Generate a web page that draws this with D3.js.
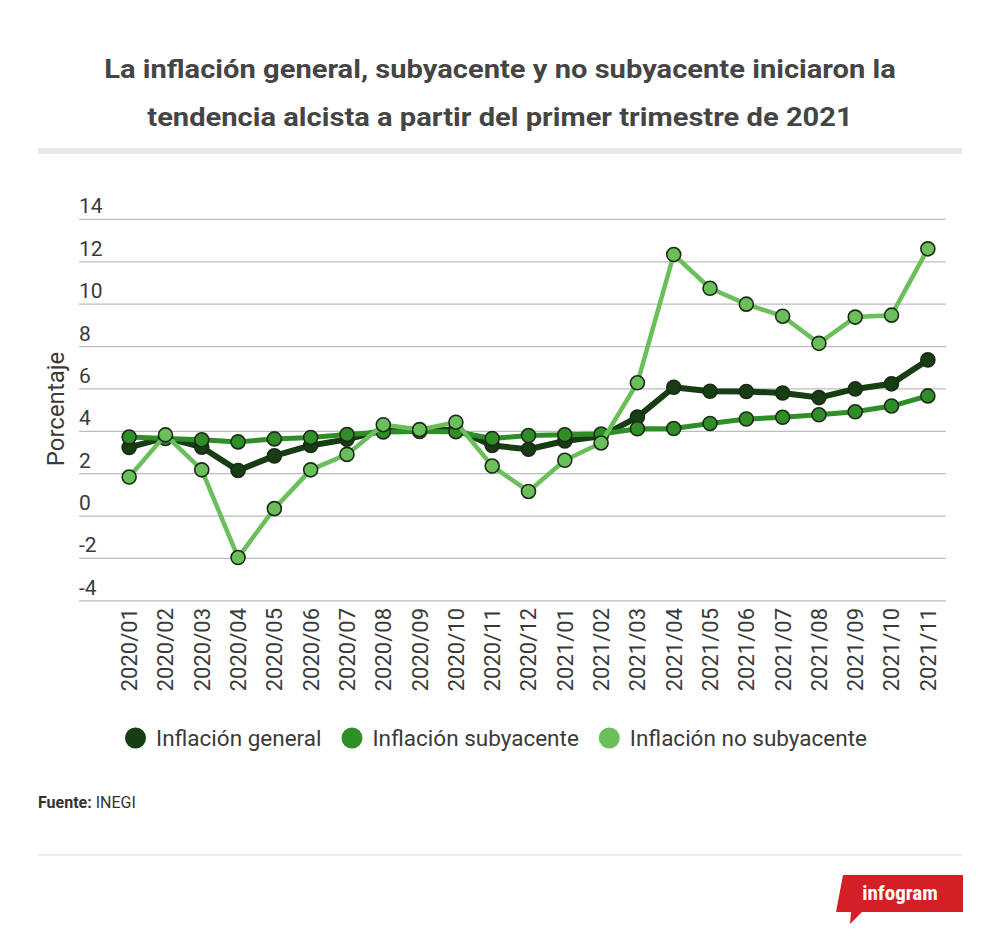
<!DOCTYPE html>
<html><head><meta charset="utf-8">
<script src="https://cdn.jsdelivr.net/npm/d3@7/dist/d3.min.js"></script>
<style>
html,body{margin:0;padding:0;background:#fff;}
svg{display:block;font-family:Roboto,"Noto Sans",sans-serif;}
</style></head>
<body>
<svg id="chart" width="1000" height="943"></svg>
<script>
const titleLines = ["La inflación general, subyacente y no subyacente iniciaron la",
                    "tendencia alcista a partir del primer trimestre de 2021"];
const months = ["2020/01","2020/02","2020/03","2020/04","2020/05","2020/06","2020/07","2020/08","2020/09","2020/10","2020/11","2020/12",
                "2021/01","2021/02","2021/03","2021/04","2021/05","2021/06","2021/07","2021/08","2021/09","2021/10","2021/11"];
const general    = [3.24,3.70,3.25,2.15,2.84,3.33,3.62,4.05,4.01,4.09,3.33,3.15,3.54,3.76,4.67,6.08,5.89,5.88,5.81,5.59,6.00,6.24,7.37];
const subyacente = [3.73,3.66,3.60,3.50,3.64,3.71,3.85,3.97,3.99,3.98,3.66,3.80,3.84,3.87,4.12,4.13,4.37,4.58,4.66,4.78,4.92,5.19,5.67];
const noSubyacente = [1.84,3.83,2.18,-1.96,0.35,2.18,2.91,4.31,4.08,4.43,2.36,1.16,2.63,3.45,6.29,12.34,10.75,10.0,9.43,8.15,9.39,9.48,12.61];
const seriesNames = ["Inflación general","Inflación subyacente","Inflación no subyacente"];
const yTicks = [14,12,10,8,6,4,2,0,-2,-4];

const seriesColors = ["#173d12","#2f8e28","#6abf5a"];
const lineWidths = [6,5,4.5];
const seriesData = [general, subyacente, noSubyacente];

const svg = d3.select("#chart");

// Title (stretched horizontally to the reference width)
const tg = svg.append("g");
const tTexts = tg.selectAll("text").data(titleLines).join("text")
  .attr("text-anchor","middle")
  .attr("font-size",26).attr("font-weight",700).attr("fill","#454545")
  .text(d=>d);
const w0 = tTexts.nodes()[0].getComputedTextLength();
const sx = 792 / w0;
tTexts.attr("transform",(d,i)=>`translate(500,${78+i*48}) scale(${sx},1)`);
svg.append("rect").attr("x",38).attr("y",148).attr("width",924).attr("height",6).attr("fill","#e8e8e8");

// Scales
const x = d3.scaleBand().domain(months).range([111,946]);
const y = d3.scaleLinear().domain([-4,14]).range([600.8,219.4]);
const gridLeft = 79, gridRight = 946;

// Grid + y labels
const yg = svg.append("g");
yg.selectAll("line").data(yTicks).join("line")
  .attr("x1",gridLeft).attr("x2",gridRight)
  .attr("y1",d=>y(d)).attr("y2",d=>y(d))
  .attr("stroke","#bcbcbc").attr("stroke-width",1.3);
yg.selectAll("text").data(yTicks).join("text")
  .attr("x",gridLeft).attr("y",d=>y(d)-6)
  .attr("font-size",21).attr("fill","#3a3a3a")
  .text(d=>d);

// Y title
svg.append("text").attr("transform","translate(64,409) rotate(-90)")
  .attr("text-anchor","middle").attr("font-size",24).attr("fill","#3a3a3a")
  .text("Porcentaje");

// X labels
svg.append("g").selectAll("text").data(months).join("text")
  .attr("transform",d=>`translate(${x(d)+x.bandwidth()/2},608) rotate(-90)`)
  .attr("text-anchor","end").attr("dy","0.36em")
  .attr("font-size",22).attr("fill","#3a3a3a")
  .text(d=>d);

// Lines + markers
const line = d3.line().x((d,i)=>x(months[i])+x.bandwidth()/2).y(d=>y(d));
seriesData.forEach((vals,si)=>{
  const g = svg.append("g");
  g.append("path").datum(vals).attr("d",line)
    .attr("fill","none").attr("stroke",seriesColors[si])
    .attr("stroke-width",lineWidths[si]).attr("stroke-linejoin","round").attr("stroke-linecap","round");
  g.selectAll("circle").data(vals).join("circle")
    .attr("cx",(d,i)=>x(months[i])+x.bandwidth()/2).attr("cy",d=>y(d))
    .attr("r",7).attr("fill",seriesColors[si])
    .attr("stroke","#1c2a18").attr("stroke-width",1.6);
});

// Legend
const lg = svg.append("g");
const items = [];
seriesNames.forEach((n,i)=>{
  const it = lg.append("g");
  it.append("circle").attr("cx",10.5).attr("cy",0).attr("r",10.5).attr("fill",seriesColors[i]);
  const t = it.append("text").attr("x",31).attr("y",8).attr("font-size",22.5).attr("fill","#3a3a3a").text(n);
  const w = 31 + t.node().getComputedTextLength();
  items.push({it,w});
});
const gap = 20;
const total = d3.sum(items,d=>d.w) + gap*(items.length-1);
let xs = 496 - total/2;
items.forEach(d=>{ d.it.attr("transform",`translate(${xs},738)`); xs += d.w + gap; });

// Source
const src = svg.append("text").attr("x",38).attr("y",808).attr("font-size",16).attr("fill","#333");
src.append("tspan").attr("font-weight",700).text("Fuente:");
src.append("tspan").text(" INEGI");

svg.append("line").attr("x1",38).attr("x2",962).attr("y1",855).attr("y2",855)
  .attr("stroke","#e6e6e6").attr("stroke-width",1.5);

// infogram badge
svg.append("polygon")
  .attr("points","843,875 963,875 963,912 862,912 850,924 851,912 836,912")
  .attr("fill","#d41f26");
svg.append("text").attr("x",900).attr("y",900).attr("text-anchor","middle")
  .attr("font-size",21).attr("font-weight",700).attr("fill","#fff")
  .attr("font-family","'Roboto Condensed',Roboto,sans-serif")
  .text("infogram");
</script>
</body></html>
